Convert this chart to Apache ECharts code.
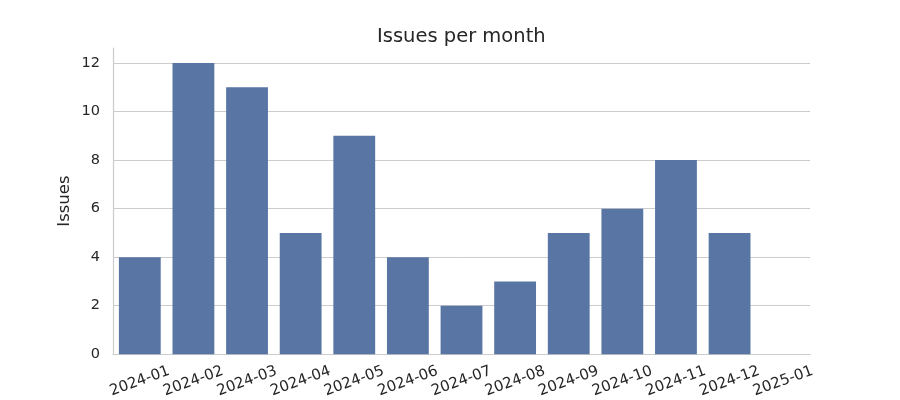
<!DOCTYPE html>
<html>
<head>
<meta charset="utf-8">
<script src="https://cdn.jsdelivr.net/npm/echarts@6/dist/echarts.min.js"></script>
<style>html,body{margin:0;padding:0;background:#fff;}#c{width:900px;height:400px;}</style>
</head>
<body>
<div id="c"></div>
<script>
const categories = ['2024-01','2024-02','2024-03','2024-04','2024-05','2024-06','2024-07','2024-08','2024-09','2024-10','2024-11','2024-12','2025-01'];
const issues = [4, 12, 11, 5, 9, 4, 2, 3, 5, 6, 8, 5, 0];
const chartTitle = 'Issues per month';
const yName = 'Issues';

const chart = echarts.init(document.getElementById('c'), null, {renderer: 'canvas'});
const font = 'DejaVu Sans';
chart.setOption({
  animation: false,
  title: {
    text: chartTitle, left: 372, top: 22,
    textStyle: {fontFamily: font, fontSize: 19.5, fontWeight: 'normal', color: '#262626'}
  },
  grid: {left: 113, right: 90, top: 48, bottom: 44},
  xAxis: {
    type: 'category', data: categories,
    axisLine: {lineStyle: {color: '#cccccc', width: 1.2}},
    axisTick: {show: false},
    axisLabel: {
      rotate: 20, align: 'center', verticalAlign: 'middle', margin: 27,
      fontFamily: font, fontSize: 15, color: '#262626', interval: 0
    }
  },
  yAxis: {
    type: 'value', min: 0, max: 12.62, interval: 2,
    name: yName, nameLocation: 'middle', nameGap: 40, nameMoveOverlap: false,
    nameTextStyle: {fontFamily: font, fontSize: 16.5, color: '#262626'},
    axisLine: {show: true, lineStyle: {color: '#cccccc', width: 1.2}},
    axisTick: {show: false},
    axisLabel: {fontFamily: font, fontSize: 14.5, color: '#262626', margin: 13, showMaxLabel: false},
    splitLine: {lineStyle: {color: '#cccccc', width: 1}, showMaxLine: false, showMinLine: false}
  },
  series: [{
    type: 'bar', data: issues, barWidth: '78%',
    itemStyle: {color: '#5875a4'}
  }]
});
</script>
</body>
</html>
